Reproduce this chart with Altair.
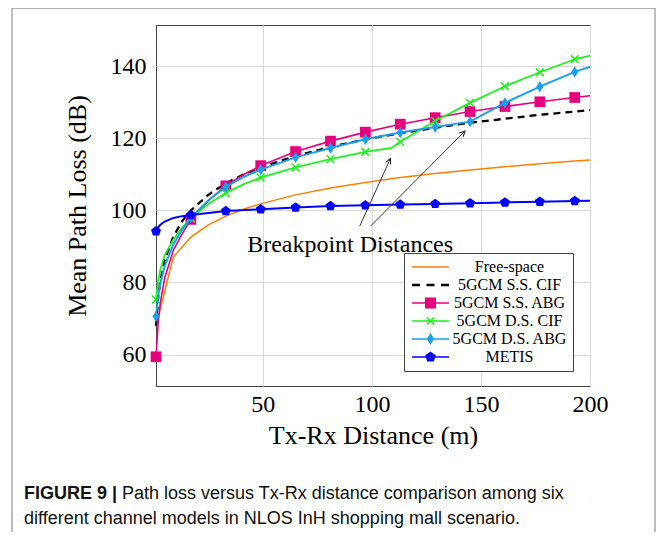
import math
import altair as alt
import pandas as pd

# ---------------- data ----------------
SERIES = ["Free-space", "5GCM S.S. CIF", "5GCM S.S. ABG",
          "5GCM D.S. CIF", "5GCM D.S. ABG", "METIS"]
COLORS = ["#FF8000", "#000000", "#E6007E", "#22EE22", "#1A9FE8", "#0000FF"]

FS_X = [1, 9, 17, 25, 33, 41, 49, 65, 81, 97, 113, 129, 145, 161, 177, 193, 200]
FS_Y = [68.0, 87.1, 92.6, 96.0, 98.4, 100.3, 101.8, 104.3, 106.2, 107.7, 109.1,
        110.2, 111.2, 112.1, 112.9, 113.7, 114.0]

SSCIF_X = [1, 2, 3, 5, 9, 13, 17, 25, 33, 41, 49, 65, 81, 97, 113, 129, 145, 161, 177, 193, 200]
SSCIF_Y = [68.0, 75.8, 80.4, 86.2, 92.8, 97.0, 100.0, 104.3, 107.5, 109.9, 111.9,
           115.1, 117.6, 119.7, 121.4, 122.9, 124.3, 125.4, 126.5, 127.4, 127.8]

SSABG_X = [1, 2, 3, 5, 9, 13, 17, 25, 33, 41, 49, 65, 81, 97, 113, 129, 145, 161, 177, 193, 200]
SSABG_Y = [59.4, 68.8, 74.4, 81.3, 89.0, 93.5, 97.5, 102.7, 106.8, 109.9, 112.4,
           116.3, 119.2, 121.7, 123.9, 125.7, 127.4, 128.8, 130.1, 131.3, 131.8]

DSCIF_X = [1, 2, 3, 5, 9, 13, 17, 25, 33, 41, 49, 65, 81, 97, 109, 113, 129, 145, 161, 177, 193, 200]
DSCIF_Y = [75.3, 80.5, 83.6, 87.6, 91.9, 95.2, 97.8, 101.8, 104.8, 107.2, 109.1,
           111.9, 114.2, 116.2, 117.3, 119.0, 124.8, 129.8, 134.4, 138.3, 141.9, 142.9]

DSABG_X = [1, 2, 3, 5, 9, 13, 17, 25, 33, 41, 49, 65, 81, 97, 113, 129, 145, 161, 177, 193, 200]
DSABG_Y = [70.6, 76.3, 79.8, 84.6, 90.6, 94.6, 98.0, 102.8, 106.5, 109.2, 111.3,
           114.7, 117.3, 119.7, 121.6, 123.1, 124.6, 129.8, 134.3, 138.4, 139.8]

METIS_X = [1, 2, 3, 5, 9, 13, 17, 33, 49, 65, 81, 97, 113, 129, 145, 161, 177, 193, 200]
METIS_Y = [94.2, 95.3, 96.0, 96.9, 97.9, 98.4, 98.7, 99.8, 100.3, 100.8, 101.2,
           101.4, 101.6, 101.8, 102.0, 102.2, 102.4, 102.6, 102.7]

MARKER_X = [1, 17, 33, 49, 65, 81, 97, 113, 129, 145, 161, 177, 193]

X_DOMAIN = [1, 200]
Y_DOMAIN = [51.3, 151.4]
X_TICKS = [50, 100, 150, 200]
Y_TICKS = [60, 80, 100, 120, 140]

NOTE_TEXT = ["Breakpoint Distances"]
NOTE_X = [90.0]
NOTE_Y = [88.5]
ARROW_X0 = [94.4, 99.3]
ARROW_Y0 = [95.6, 95.6]
ARROW_X1 = [108.5, 142.7]
ARROW_Y1 = [114.4, 122.0]

CAPTION_BOLD = "FIGURE 9 |"
CAPTION_1 = "Path loss versus Tx-Rx distance comparison among six"
CAPTION_2 = "different channel models in NLOS InH shopping mall scenario."

# ---------------- tables ----------------
SERIES_XY = {
    "Free-space": (FS_X, FS_Y),
    "5GCM S.S. CIF": (SSCIF_X, SSCIF_Y),
    "5GCM S.S. ABG": (SSABG_X, SSABG_Y),
    "5GCM D.S. CIF": (DSCIF_X, DSCIF_Y),
    "5GCM D.S. ABG": (DSABG_X, DSABG_Y),
    "METIS": (METIS_X, METIS_Y),
}
rows = []
for name, (xs, ys) in SERIES_XY.items():
    for xv, yv in zip(xs, ys):
        rows.append({"model": name, "x": xv, "y": yv})
df = pd.DataFrame(rows)

W, H = 434, 361
PX_X = W / (X_DOMAIN[1] - X_DOMAIN[0])
PX_Y = H / (Y_DOMAIN[1] - Y_DOMAIN[0])
angles = [math.degrees(math.atan2((x1 - x0) * PX_X, (y1 - y0) * PX_Y))
          for x0, y0, x1, y1 in zip(ARROW_X0, ARROW_Y0, ARROW_X1, ARROW_Y1)]
arrows = pd.DataFrame({"x0": ARROW_X0, "y0": ARROW_Y0, "x1": ARROW_X1,
                       "y1": ARROW_Y1, "ang": angles})
notes = pd.DataFrame({"x": NOTE_X, "y": NOTE_Y, "t": NOTE_TEXT})

# ---------------- styles ----------------
PENTAGON = "M0,-1L0.951,-0.309L0.588,0.809L-0.588,0.809L-0.951,-0.309Z"
DIAMOND = "M0,-1L0.62,0L0,1L-0.62,0Z"
XMARK = "M-1,-1L1,1M-1,1L1,-1"
CHEVRON = "M-0.45,0.9L0,0L0.45,0.9"

LINE_STYLE = {
    "Free-space": dict(strokeWidth=1.5),
    "5GCM S.S. CIF": dict(strokeWidth=2.3, strokeDash=[7, 5]),
    "5GCM S.S. ABG": dict(strokeWidth=1.6),
    "5GCM D.S. CIF": dict(strokeWidth=1.8),
    "5GCM D.S. ABG": dict(strokeWidth=2.0),
    "METIS": dict(strokeWidth=2.0),
}
MARK_STYLE = {
    "5GCM S.S. ABG": dict(shape="square", size=115, filled=True),
    "5GCM D.S. CIF": dict(shape=XMARK, size=60, filled=False, strokeWidth=1.6),
    "5GCM D.S. ABG": dict(shape=DIAMOND, size=130, filled=True),
    "METIS": dict(shape=PENTAGON, size=110, filled=True),
}

# legend glyphs: written in pixel units, scaled to the symbol's unit (r = sqrt(size)/2)
LEG_SIZE = 144
LEG_R = math.sqrt(LEG_SIZE) / 2.0


def poly(points):
    pts = [(px / LEG_R, py / LEG_R) for px, py in points]
    return "M" + "L".join(f"{a:.3f},{b:.3f}" for a, b in pts) + "Z"


def rect(x0, x1, h):
    return poly([(x0, -h), (x1, -h), (x1, h), (x0, h)])


LEG_LINE = rect(-18.5, 18.5, 0.8)
LEG_PATHS = [
    LEG_LINE,
    rect(-18.5, -10.5, 1.2) + rect(-4, 4, 1.2) + rect(10.5, 18.5, 1.2),
    LEG_LINE + rect(-5.5, 5.5, 5.5),
    LEG_LINE + poly([(-2.9, -4.1), (4.1, 2.9), (2.9, 4.1), (-4.1, -2.9)])
    + poly([(-4.1, 2.9), (2.9, -4.1), (4.1, -2.9), (-2.9, 4.1)]),
    LEG_LINE + poly([(0, -6.1), (3.7, 0), (0, 6.1), (-3.7, 0)]),
    LEG_LINE + poly([(0, -5.6), (5.3, -1.7), (3.3, 4.5), (-3.3, 4.5), (-5.3, -1.7)]),
]

SERIF = "Liberation Serif"
SANS = "Liberation Sans"

x_enc = alt.X("x:Q", scale=alt.Scale(domain=X_DOMAIN, nice=False, zero=False),
              axis=alt.Axis(values=X_TICKS, title="Tx-Rx Distance (m)"))
y_enc = alt.Y("y:Q", scale=alt.Scale(domain=Y_DOMAIN, nice=False, zero=False),
              axis=alt.Axis(values=Y_TICKS, title="Mean Path Loss (dB)"))

layers = []

# frame around figure + caption
frame = alt.Chart(pd.DataFrame({"k": [0]})).mark_rect(
    fillOpacity=0, stroke="#9a9a9a", strokeWidth=1.3
).encode(x=alt.value(-144), x2=alt.value(499), y=alt.value(-17), y2=alt.value(560))
layers.append(frame)

base = alt.Chart(df)
for name, color in zip(SERIES, COLORS):
    layers.append(
        base.transform_filter(alt.datum.model == name)
        .mark_line(color=color, **LINE_STYLE[name])
        .encode(x=x_enc, y=y_enc)
    )
    if name in MARK_STYLE:
        layers.append(
            base.transform_filter(alt.datum.model == name)
            .transform_filter(alt.FieldOneOfPredicate(field="x", oneOf=MARKER_X))
            .mark_point(color=color, opacity=1, **MARK_STYLE[name])
            .encode(x=x_enc, y=y_enc)
        )

# annotation
layers.append(
    alt.Chart(arrows).mark_rule(color="#222", strokeWidth=0.9)
    .encode(x="x0:Q", y="y0:Q", x2="x1:Q", y2="y1:Q")
)
layers.append(
    alt.Chart(arrows).mark_point(shape=CHEVRON, size=144, filled=False,
                                 strokeWidth=1, color="#222", opacity=1)
    .encode(x="x1:Q", y="y1:Q", angle=alt.Angle("ang:Q", scale=None))
)
layers.append(
    alt.Chart(notes).mark_text(font=SERIF, fontSize=24, align="center",
                               baseline="alphabetic", color="black")
    .encode(x="x:Q", y="y:Q", text="t:N")
)

# legend carrier (invisible marks, legend only)
layers.append(
    alt.Chart(pd.DataFrame({"model": SERIES})).mark_point(filled=True, opacity=0)
    .encode(
        color=alt.Color("model:N", scale=alt.Scale(domain=SERIES, range=COLORS),
                        legend=alt.Legend(title=None)),
        shape=alt.Shape("model:N", scale=alt.Scale(domain=SERIES, range=LEG_PATHS),
                        legend=alt.Legend(title=None)),
    )
)

# caption
CAP_FS = 18
cap = pd.DataFrame({"a": [CAPTION_BOLD], "b": [CAPTION_1], "c": [CAPTION_2]})
layers.append(
    alt.Chart(cap).mark_text(font=SANS, fontSize=CAP_FS, fontWeight="bold", align="left",
                             baseline="alphabetic", color="#111")
    .encode(x=alt.value(-132), y=alt.value(474), text="a:N")
)
layers.append(
    alt.Chart(cap).mark_text(font=SANS, fontSize=CAP_FS, align="left",
                             baseline="alphabetic", color="#111")
    .encode(x=alt.value(-34), y=alt.value(474), text="b:N")
)
layers.append(
    alt.Chart(cap).mark_text(font=SANS, fontSize=CAP_FS, align="left",
                             baseline="alphabetic", color="#111")
    .encode(x=alt.value(-132), y=alt.value(499), text="c:N")
)

chart = (
    alt.layer(*layers)
    .properties(width=W, height=H,
                padding={"left": 148, "top": 17, "right": 66, "bottom": 146},
                autosize=alt.AutoSizeParams(type="none"))
    .configure_view(stroke="#444", strokeWidth=1)
    .configure_axis(labelFont=SERIF, labelFontSize=24, labelColor="black",
                    titleFont=SERIF, titleFontSize=26, titleFontWeight="normal",
                    titleColor="black", gridColor="#d9d9d9", gridWidth=1,
                    domain=False, ticks=False, tickSize=0, labelFlush=False)
    .configure_axisX(labelPadding=6, titlePadding=6)
    .configure_axisY(labelPadding=10, titlePadding=20)
    .configure_legend(orient="none", legendX=248, legendY=228, padding=6,
                      strokeColor="#444", fillColor="white", cornerRadius=0,
                      symbolSize=LEG_SIZE, symbolOffset=12.5, symbolStrokeWidth=0,
                      symbolOpacity=1, labelFont=SERIF, labelFontSize=16,
                      labelColor="black", labelAlign="center", labelOffset=71,
                      rowPadding=2, labelLimit=300)
)

chart.save("out.html", embed_options={"renderer": "svg", "actions": False})
